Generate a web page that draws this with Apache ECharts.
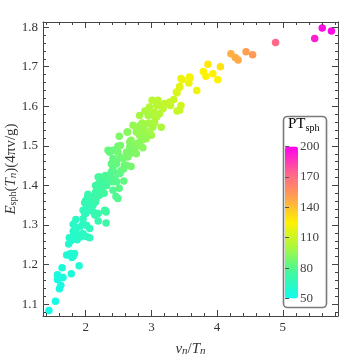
<!DOCTYPE html>
<html>
<head>
<meta charset="utf-8">
<script src="https://cdn.jsdelivr.net/npm/echarts@6/dist/echarts.min.js"></script>
<style>
  html, body { margin: 0; padding: 0; background: #fff; }
  #chart { width: 360px; height: 358px; }
</style>
</head>
<body>
<div id="chart"></div>
<script>
// v_n / T_n
const vnTn = [
  1.44, 1.54, 1.60, 1.62, 1.655, 1.57, 1.57, 1.64, 1.78, 1.90,
  1.71, 1.77, 1.81, 1.83, 1.79, 1.74, 1.78, 1.75, 1.81, 1.86,
  1.87, 1.92, 1.96, 2.01, 2.06, 2.06, 2.015, 1.96, 1.91, 1.85,
  1.81, 1.85, 1.81, 1.96, 2.00, 2.06, 2.12, 2.14, 2.19, 2.31,
  2.31, 2.19, 2.11, 2.05, 2.15, 2.035, 1.985, 1.96, 2.01, 2.03,
  2.035, 2.11, 2.15, 2.21, 2.20, 2.15, 2.24, 2.19, 2.29, 2.49,
  2.415, 2.415, 2.44, 2.52, 2.54, 2.39, 2.415, 2.415, 2.365, 2.34,
  2.49, 2.52, 2.57, 2.59, 2.69, 2.64, 2.67, 2.72, 2.77, 2.85,
  2.90, 2.82, 2.51, 2.64, 2.82, 2.90, 2.97, 2.87, 3.00, 2.77,
  2.72, 2.63, 2.67, 2.80, 2.87, 2.745, 2.53, 2.415, 2.69, 2.92,
  3.15, 3.02, 2.96, 2.86, 2.97, 2.90, 3.05, 3.125, 3.175, 3.05,
  2.97, 3.01, 3.10, 3.20, 3.27, 3.125, 3.34, 3.39, 3.43, 3.45,
  3.58, 3.57, 3.69, 3.45, 3.43, 3.39, 3.08, 3.175, 3.22, 3.29,
  3.08, 2.82, 2.95, 3.05, 2.95, 2.85, 2.77, 2.87, 2.82, 2.87,
  2.795, 2.69, 2.67, 2.64, 2.77, 2.47, 2.62, 2.49, 2.62, 2.58,
  2.47, 2.415, 2.49, 2.39, 2.365, 2.44, 2.21, 2.46, 2.51, 2.58,
  2.30, 3.79, 3.83, 3.86, 3.935, 4.01, 4.05, 3.59, 3.47, 3.43,
  3.38, 3.28, 4.21, 4.275, 4.32, 4.44, 4.54, 4.89, 5.485, 5.60,
  5.74, 2.16, 2.21, 2.17, 2.26, 2.32, 2.26, 2.47, 2.00, 2.02,
  1.985, 2.28, 2.34, 2.30
];
// E_sph(T_n)(4 pi v / g)
const eSph = [
  1.084, 1.107, 1.139, 1.148, 1.167, 1.162, 1.174, 1.192, 1.177, 1.197,
  1.224, 1.228, 1.221, 1.228, 1.218, 1.252, 1.261, 1.268, 1.271, 1.278,
  1.263, 1.270, 1.278, 1.271, 1.268, 1.291, 1.299, 1.303, 1.295, 1.291,
  1.302, 1.314, 1.284, 1.316, 1.329, 1.337, 1.333, 1.325, 1.310, 1.305,
  1.333, 1.329, 1.350, 1.358, 1.358, 1.345, 1.356, 1.337, 1.341, 1.372,
  1.378, 1.371, 1.383, 1.388, 1.405, 1.400, 1.413, 1.421, 1.337, 1.367,
  1.388, 1.409, 1.413, 1.430, 1.438, 1.455, 1.459, 1.468, 1.484, 1.489,
  1.499, 1.472, 1.468, 1.451, 1.448, 1.472, 1.480, 1.489, 1.501, 1.514,
  1.531, 1.527, 1.524, 1.535, 1.551, 1.539, 1.535, 1.529, 1.527, 1.535,
  1.552, 1.535, 1.510, 1.501, 1.495, 1.490, 1.501, 1.489, 1.484, 1.518,
  1.547, 1.547, 1.558, 1.558, 1.598, 1.588, 1.585, 1.581, 1.594, 1.573,
  1.581, 1.615, 1.615, 1.607, 1.607, 1.602, 1.617, 1.634, 1.650, 1.670,
  1.674, 1.659, 1.640, 1.602, 1.590, 1.588, 1.602, 1.597, 1.605, 1.602,
  1.573, 1.577, 1.577, 1.558, 1.556, 1.554, 1.546, 1.543, 1.531, 1.516,
  1.507, 1.514, 1.497, 1.479, 1.480, 1.461, 1.484, 1.484, 1.451, 1.442,
  1.455, 1.442, 1.430, 1.434, 1.426, 1.417, 1.421, 1.372, 1.393, 1.411,
  1.336, 1.688, 1.676, 1.706, 1.682, 1.667, 1.700, 1.672, 1.667, 1.648,
  1.636, 1.611, 1.733, 1.723, 1.717, 1.738, 1.730, 1.761, 1.771, 1.798,
  1.790, 1.367, 1.375, 1.392, 1.396, 1.400, 1.405, 1.409, 1.362, 1.350,
  1.330, 1.380, 1.415, 1.425
];
// PT_sph (colour)
const ptSph = [
  52, 53, 55, 55, 56, 55, 56, 57, 57, 59,
  58, 59, 59, 60, 59, 60, 61, 61, 62, 62,
  62, 63, 64, 65, 66, 66, 66, 65, 64, 63,
  63, 64, 62, 66, 67, 68, 69, 69, 70, 73,
  73, 70, 70, 69, 71, 68, 68, 67, 68, 70,
  71, 72, 73, 74, 75, 74, 76, 76, 74, 80,
  79, 79, 80, 82, 83, 82, 83, 83, 84, 84,
  87, 86, 87, 86, 88, 88, 89, 90, 92, 94,
  96, 95, 90, 93, 97, 97, 98, 96, 98, 94,
  95, 92, 91, 92, 93, 91, 88, 85, 90, 96,
  101, 99, 99, 98, 103, 101, 103, 104, 105, 102,
  102, 105, 106, 107, 108, 106, 110, 113, 116, 119,
  122, 120, 121, 112, 110, 109, 105, 106, 107, 108,
  103, 99, 100, 101, 99, 97, 96, 97, 96, 95,
  93, 92, 90, 89, 91, 85, 89, 87, 87, 85,
  84, 82, 82, 80, 79, 80, 76, 79, 81, 83,
  74, 125, 124, 128, 126, 125, 130, 122, 120, 117,
  114, 109, 145, 146, 147, 150, 152, 172, 192, 197,
  198, 72, 73, 74, 75, 76, 75, 80, 69, 68,
  66, 75, 78, 78
];

const xMajor = [2, 3, 4, 5];
const xMinor = [1.4, 1.6, 1.8, 2.2, 2.4, 2.6, 2.8, 3.2, 3.4, 3.6, 3.8,
  4.2, 4.4, 4.6, 4.8, 5.2, 5.4, 5.6, 5.8];
const yMajor = [1.1, 1.2, 1.3, 1.4, 1.5, 1.6, 1.7, 1.8];
const yMinor = [1.08, 1.12, 1.14, 1.16, 1.18, 1.22, 1.24, 1.26, 1.28,
  1.32, 1.34, 1.36, 1.38, 1.42, 1.44, 1.46, 1.48, 1.52, 1.54, 1.56, 1.58,
  1.62, 1.64, 1.66, 1.68, 1.72, 1.74, 1.76, 1.78];
const ptTicks = [50, 80, 110, 140, 170, 200];
const ptColors = ['#10fbf0', '#40f8a0', '#a8f840', '#fff200', '#ffa050', '#ff6090', '#ff00f0'];

const chart = echarts.init(document.getElementById('chart'));

const serif = '"Liberation Serif", "DejaVu Serif", serif';
const frame = '#444';
const X_RANGE = [1.35, 5.84];
const Y_RANGE = [1.07, 1.813];

function tickAxis(pos, grid, ticks, len, labels, range) {
  return {
    type: 'value',
    gridIndex: grid,
    position: pos,
    min: range[0],
    max: range[1],
    axisLine: { show: len > 4, lineStyle: { color: frame, width: 1 } },
    axisTick: { show: true, inside: true, length: len, customValues: ticks, lineStyle: { color: frame } },
    axisLabel: labels ? {
      show: true, customValues: labels, margin: 5,
      fontFamily: serif, fontSize: 13, color: '#333',
      formatter: v => v.toFixed(pos === 'left' ? 1 : 0)
    } : { show: false },
    splitLine: { show: false },
    minorTick: { show: false },
    z: 3
  };
}

const sub = { fontFamily: serif, fontSize: 10, padding: [5, 0, 0, 0], color: '#333' };
const subi = { fontFamily: serif, fontSize: 11, fontStyle: 'italic', padding: [5, 0, 0, 0], color: '#333' };
const it = { fontFamily: serif, fontSize: 15, fontStyle: 'italic', color: '#333' };
const rm = { fontFamily: serif, fontSize: 15, color: '#333' };

const xMain = tickAxis('bottom', 0, xMajor, 6, xMajor, X_RANGE);
xMain.name = '{e|v}{s|n}{n|/}{e|T}{s|n}';
xMain.nameLocation = 'middle';
xMain.nameGap = 25;
xMain.nameTextStyle = { rich: { e: it, s: subi, n: rm } };

const yMain = tickAxis('left', 0, yMajor, 6, yMajor, Y_RANGE);
yMain.name = '{e|E}{b|sph}{n|(}{e|T}{s|n}{n|)(4πv/g)}';
yMain.nameLocation = 'middle';
yMain.nameGap = 24;
yMain.nameMoveOverlap = false;
yMain.nameTextStyle = { rich: { e: it, b: sub, s: subi, n: rm } };

const gridBox = { left: 43, top: 22, width: 295, height: 294, outerBoundsMode: 'none', containLabel: false };

chart.setOption({
  animation: false,
  backgroundColor: '#fff',
  grid: [
    gridBox,
    gridBox,
    { left: 285, top: 146.5, width: 13, height: 152, outerBoundsMode: 'none', containLabel: false }
  ],
  xAxis: [
    xMain,
    tickAxis('top', 0, xMajor, 6, null, X_RANGE),
    tickAxis('bottom', 1, xMinor, 3, null, X_RANGE),
    tickAxis('top', 1, xMinor, 3, null, X_RANGE),
    { type: 'value', gridIndex: 2, show: false, min: 0, max: 1 }
  ],
  yAxis: [
    yMain,
    tickAxis('right', 0, yMajor, 6, null, Y_RANGE),
    tickAxis('left', 1, yMinor, 3, null, Y_RANGE),
    tickAxis('right', 1, yMinor, 3, null, Y_RANGE),
    {
      type: 'value', gridIndex: 2, position: 'right', min: 50, max: 200,
      axisLine: { show: false },
      axisTick: { show: true, inside: false, length: 4, customValues: ptTicks, lineStyle: { color: '#555' } },
      axisLabel: { show: true, customValues: ptTicks, margin: 2, fontFamily: serif, fontSize: 13, color: '#444' },
      splitLine: { show: false },
      z: 8
    }
  ],
  visualMap: {
    type: 'continuous',
    seriesIndex: 0,
    dimension: 2,
    min: 50,
    max: 200,
    calculable: false,
    orient: 'vertical',
    left: 280,
    top: 141.5,
    itemWidth: 13,
    itemHeight: 152,
    padding: 5,
    inRange: { color: ptColors },
    z: 8
  },
  graphic: [
    {
      type: 'rect', z: 6,
      shape: { x: 283.5, y: 116.5, width: 43, height: 191, r: 4 },
      style: { fill: '#fff', stroke: '#7a7a7a', lineWidth: 1.6 }
    },
    {
      type: 'text', z: 8, left: 288, top: 117,
      style: {
        text: '{p|PT}{s|sph}',
        rich: {
          p: { fontFamily: serif, fontSize: 15, color: '#222' },
          s: { fontFamily: serif, fontSize: 10, color: '#222', padding: [7, 0, 0, 0] }
        }
      }
    }
  ],
  series: [{
    type: 'scatter',
    xAxisIndex: 0,
    yAxisIndex: 0,
    symbolSize: 7.5,
    itemStyle: { opacity: 1 },
    data: vnTn.map((x, i) => [x, eSph[i], ptSph[i]])
  }]
});
</script>
</body>
</html>
